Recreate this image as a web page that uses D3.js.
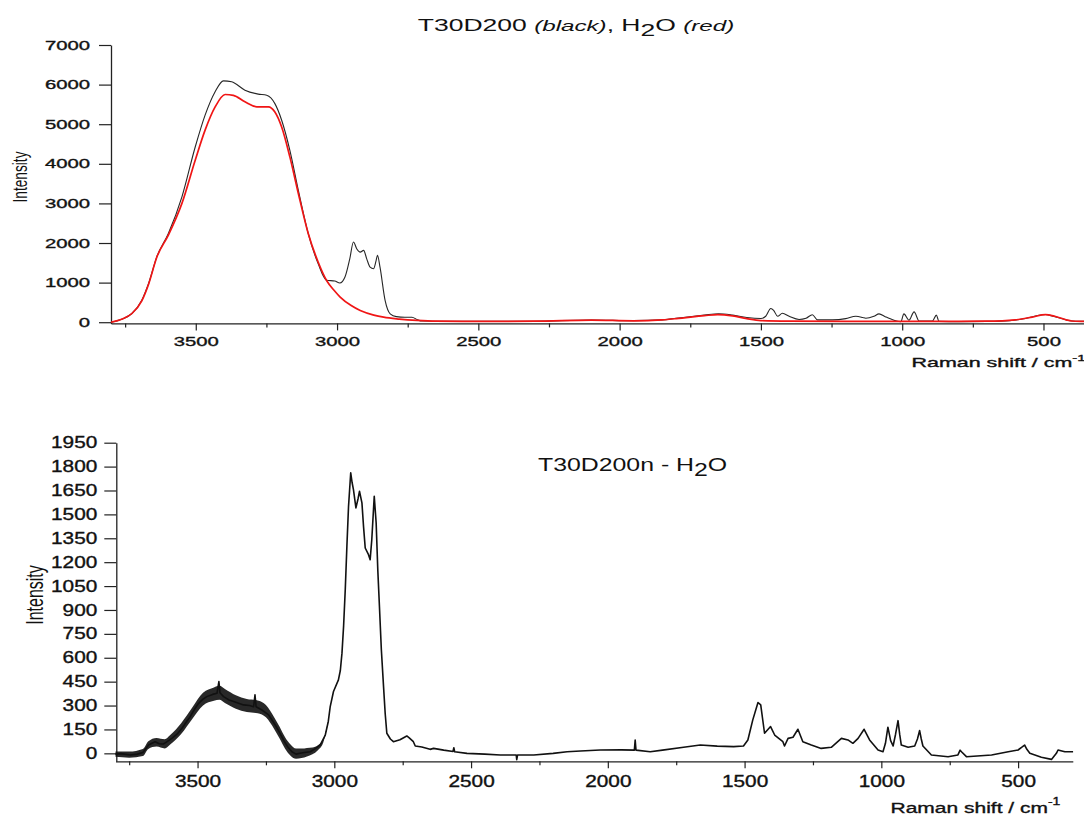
<!DOCTYPE html>
<html><head><meta charset="utf-8">
<script src="https://cdn.jsdelivr.net/npm/d3@7"></script>
<style>
html,body{margin:0;padding:0;background:#fff;overflow:hidden}
svg{display:block}
text{font-family:"Liberation Sans",Arial,sans-serif;fill:#111}
.tick text,.heavy{stroke:#111;stroke-width:0.35px}
</style></head><body>
<svg id="c" width="1084" height="815"></svg>
<script>
// ---------- DATA ----------
// Raman shift (cm-1), intensity
const sampleT30D200 = [
[3800,0],[3760,80],[3726,220],[3691,555],[3667,977],[3638,1650],[3597,2240],[3549,3165],[3502,4425],
[3467,5230],[3432,5815],[3402,6095],[3373,6070],[3326,5860],[3279,5760],[3249,5730],[3220,5520],
[3196,5100],[3167,4340],[3137,3330],[3102,2240],[3067,1480],[3037,1060],[3008,1040],[2990,990],
[2972,1140],[2955,1600],[2942,2025],[2930,1850],[2918,1770],[2906,1815],[2895,1600],[2883,1390],
[2871,1350],[2862,1550],[2857,1690],[2848,1390],[2830,550],[2812,210],[2790,140],[2760,127],[2735,127],
[2715,60],[2700,30],[2600,20],[2500,20],[2300,25],[2100,55],[1950,40],[1850,60],[1800,100],[1700,180],
[1650,215],[1600,180],[1550,120],[1500,95],[1483,150],[1465,345],[1455,300],[1441,150],[1424,225],
[1400,150],[1365,70],[1340,100],[1318,190],[1300,60],[1247,60],[1200,90],[1164,150],[1140,120],
[1129,100],[1100,150],[1082,210],[1060,140],[1047,100],[1005,10],[994,210],[976,50],[958,260],
[940,30],[893,30],[879,180],[870,20],[800,15],[700,20],[620,40],[560,100],[520,170],[493,195],
[470,160],[420,60],[400,30],[350,20],[300,10]
];
const waterH2O = [
[3800,0],[3760,80],[3726,220],[3691,540],[3667,960],[3638,1640],[3597,2200],[3549,3000],[3502,4090],
[3467,4850],[3432,5430],[3396,5750],[3367,5730],[3326,5565],[3284,5440],[3243,5440],[3220,5310],
[3196,4930],[3167,4175],[3137,3250],[3102,2240],[3067,1520],[3036,1040],[3010,800],[2989,635],
[2950,420],[2918,296],[2870,180],[2835,127],[2780,80],[2717,45],[2650,25],[2500,20],[2300,25],
[2100,55],[1950,35],[1850,60],[1800,90],[1700,165],[1653,194],[1600,160],[1550,90],[1500,40],
[1400,25],[1200,20],[1000,20],[800,20],[700,25],[600,60],[540,130],[493,194],[460,150],[420,60],
[400,30],[350,20],[300,10]
];
const difference = [
[3800,-5],[3780,-2],[3746,-10],[3720,-5],[3700,5],[3679,52],[3665,65],[3655,73],[3640,60],[3624,59],
[3610,75],[3594,94],[3575,120],[3557,157],[3540,200],[3527,230],[3510,280],[3496,314],[3480,340],
[3466,356],[3445,370],[3429,377],[3422,450],[3418,380],[3405,356],[3385,335],[3368,325],[3350,315],
[3332,304],[3310,300],[3295,293],[3290,367],[3286,292],[3265,272],[3240,241],[3216,178],[3200,130],
[3186,84],[3170,40],[3155,10],[3140,-5],[3125,0],[3110,5],[3088,10],[3070,30],[3052,52],[3033,115],
[3022,200],[3015,293],[3003,388],[2985,461],[2978,520],[2972,629],[2966,800],[2960,1027],[2954,1300],
[2948,1551],[2940,1761],[2935,1700],[2930,1656],[2921,1541],[2913,1600],[2908,1645],[2899,1572],
[2893,1420],[2887,1289],[2875,1247],[2869,1216],[2863,1341],[2854,1614],[2847,1446],[2841,1150],
[2835,922],[2828,650],[2820,419],[2814,250],[2808,126],[2795,90],[2784,73],[2760,85],[2735,109],
[2725,95],[2711,73],[2704,46],[2680,40],[2650,25],[2637,31],[2600,20],[2566,12],[2563,35],[2560,10],
[2515,0],[2450,-5],[2393,-10],[2335,-10],[2333,-40],[2330,-10],[2271,-10],[2200,0],[2149,10],[2100,15],
[2028,21],[1950,22],[1903,20],[1900,84],[1897,20],[1845,10],[1800,20],[1723,38],[1662,52],[1600,45],
[1540,42],[1504,46],[1488,84],[1470,210],[1451,319],[1441,304],[1427,126],[1405,168],[1390,115],
[1360,73],[1354,46],[1341,94],[1323,101],[1305,151],[1287,73],[1256,52],[1220,31],[1183,38],[1146,94],
[1122,84],[1104,63],[1085,94],[1063,151],[1043,84],[1012,21],[994,10],[985,63],[976,164],[966,80],
[957,46],[948,120],[939,205],[933,120],[927,52],[902,38],[878,46],[868,90],[860,143],[854,90],[848,46],
[817,-10],[756,-21],[720,-10],[712,20],[707,10],[689,-21],[597,-10],[536,10],[500,21],[485,40],[476,52],
[468,25],[457,0],[415,-25],[378,-38],[360,0],[354,21],[340,15],[329,10],[299,10]
];
// noisy band of the difference spectrum (upper / lower edge)
const noiseShift = [3800,3750,3700,3680,3650,3620,3600,3560,3520,3480,3440,3420,3400,3360,3320,3280,3250,3220,3200,3180,3160,3140,3120,3100,3080,3060,3040,3020];
const noiseLow   = [-22,-27,-17,28,43,31,55,121,214,300,330,336,316,280,259,252,226,153,93,29,-15,-34,-30,-20,-6,20,70,215];
const noiseHigh  = [12,11,27,76,97,89,115,189,286,380,414,424,404,364,341,332,304,227,167,101,55,30,30,34,36,50,90,225];

const xMajorTicks = [3500,3000,2500,2000,1500,1000,500];
const xMinorTicks = [3750,3250,2750,2250,1750,1250,750];
const topYTicks = [0,1000,2000,3000,4000,5000,6000,7000];
const bottomYTicks = [0,150,300,450,600,750,900,1050,1200,1350,1500,1650,1800,1950];

// ---------- DRAWING ----------
const svg = d3.select('#c');
const xTop = d3.scaleLinear().domain([3800,300]).range([111,1100]);
const yTop = d3.scaleLinear().domain([-30,7000]).range([323.4,45]);
const xBot = d3.scaleLinear().domain([3800,300]).range([115.5,1072.8]);
const yBot = d3.scaleLinear().domain([-50,1950]).range([761.3,442.7]);

function stretchTicks(g, s, fs){
  g.selectAll('.tick text').each(function(){
    const t = d3.select(this);
    const x = +t.attr('x') || 0;
    t.attr('x', x/s).attr('transform', `scale(${s},1)`).style('font-size', fs+'px');
  });
}
function styleAxis(g){
  g.attr('color','#222');
  g.select('.domain').attr('stroke-width',1.3);
  g.selectAll('.tick line').attr('stroke-width',1.2);
}

function drawAxes(x, y, xAxisY, yAxisX, yTicks, fs, sx, xPad, yPad, yTickLen){
  const gx = svg.append('g').attr('transform',`translate(0,${xAxisY})`)
    .call(d3.axisBottom(x).tickValues(xMajorTicks).tickSize(7).tickPadding(xPad).tickSizeOuter(0).tickFormat(d3.format('d')));
  styleAxis(gx); stretchTicks(gx, sx, fs);
  const gm = svg.append('g').attr('transform',`translate(0,${xAxisY})`)
    .call(d3.axisBottom(x).tickValues(xMinorTicks).tickSize(4).tickSizeOuter(0).tickFormat(''));
  gm.select('.domain').remove(); gm.attr('color','#222'); gm.selectAll('.tick line').attr('stroke-width',1.2);
  const gy = svg.append('g').attr('transform',`translate(${yAxisX},0)`)
    .call(d3.axisLeft(y).tickValues(yTicks).tickSize(yTickLen).tickPadding(yPad).tickSizeOuter(0).tickFormat(d3.format('d')));
  styleAxis(gy); stretchTicks(gy, sx, fs);
}

// ---- top panel ----
drawAxes(xTop, yTop, 323.4, 111, topYTicks, 13, 1.56, 6.5, 9, 12);

const lineTop = d3.line().x(d=>xTop(d[0])).y(d=>yTop(d[1])).curve(d3.curveMonotoneX);
svg.append('path').datum(sampleT30D200).attr('d',lineTop)
  .attr('fill','none').attr('stroke','#262626').attr('stroke-width',1.1);
svg.append('path').datum(waterH2O).attr('d',lineTop)
  .attr('fill','none').attr('stroke','#f01515').attr('stroke-width',1.7);

// title
const tt = svg.append('text').attr('transform','translate(576,31) scale(1.56,1)')
  .attr('text-anchor','middle').style('font-size','17px');
tt.append('tspan').text('T30D200 ');
tt.append('tspan').style('font-style','italic').style('font-size','15.5px').text('(black)');
tt.append('tspan').text(', H');
tt.append('tspan').attr('dy',5).text('2');
tt.append('tspan').attr('dy',-5).text('O ');
tt.append('tspan').style('font-style','italic').style('font-size','15.5px').text('(red)');

// axis titles top
const at1 = svg.append('text').attr('class','heavy').attr('transform','translate(911.5,367) scale(1.65,1)').style('font-size','13px');
at1.append('tspan').text('Raman shift / cm');
at1.append('tspan').attr('dy',-6).style('font-size','9px').text('-1');
svg.append('text').attr('transform','translate(27,177) scale(1.5,1) rotate(-90)')
  .attr('text-anchor','middle').style('font-size','13.7px').text('Intensity');

// ---- bottom panel ----
drawAxes(xBot, yBot, 761.3, 116.3, bottomYTicks, 16, 1.3, 7.3, 7, 12);

const bandData = noiseShift.map((s,i)=>({s, lo:noiseLow[i], hi:noiseHigh[i]}));
svg.append('path').datum(bandData)
  .attr('d', d3.area().x(d=>xBot(d.s)).y0(d=>yBot(d.lo)).y1(d=>yBot(d.hi)).curve(d3.curveMonotoneX))
  .attr('fill','#111').attr('opacity',0.9);
const lineBot = d3.line().x(d=>xBot(d[0])).y(d=>yBot(d[1]));
svg.append('path').datum(difference).attr('d',lineBot)
  .attr('fill','none').attr('stroke','#111').attr('stroke-width',1.6).attr('stroke-linejoin','round');

const ann = svg.append('text').attr('transform','translate(538,471) scale(1.38,1)').style('font-size','18px');
ann.append('tspan').text('T30D200n - H');
ann.append('tspan').attr('dy',5).text('2');
ann.append('tspan').attr('dy',-5).text('O');

const at2 = svg.append('text').attr('class','heavy').attr('transform','translate(890.5,813) scale(1.4,1)').style('font-size','15px');
at2.append('tspan').text('Raman shift / cm');
at2.append('tspan').attr('dy',-8).style('font-size','10px').text('-1');
svg.append('text').attr('transform','translate(43,595) scale(1.45,1) rotate(-90)')
  .attr('text-anchor','middle').style('font-size','16px').text('Intensity');
</script>
</body></html>
